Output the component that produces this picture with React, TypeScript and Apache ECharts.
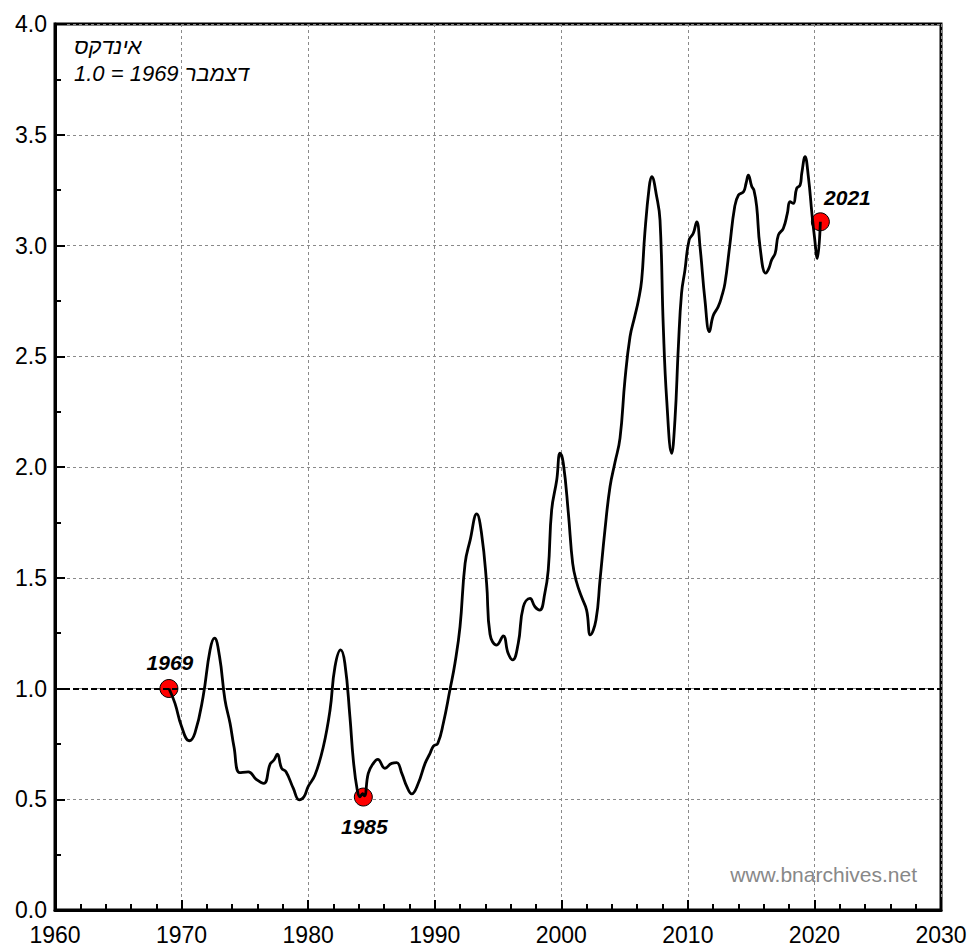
import React, { useEffect, useRef } from "react";
import * as echarts from "echarts";

const years: number[] = [
  1969.0, 1969.48, 1970.0, 1970.6, 1971.06, 1971.7, 1972.25, 1972.6, 1973.0, 1973.43,
  1973.83, 1974.14, 1974.6, 1975.27, 1975.9, 1976.5, 1977.0, 1977.3, 1977.57, 1977.9,
  1978.25, 1978.83, 1979.3, 1979.67, 1980.0, 1980.54, 1981.2, 1981.73, 1982.12, 1982.57,
  1982.9, 1983.3, 1983.57, 1983.88, 1984.1, 1984.3, 1984.45, 1984.75, 1985.15, 1985.5,
  1986.07, 1986.6, 1987.0, 1987.4, 1987.8, 1988.18, 1988.7, 1989.24, 1989.63, 1989.9,
  1990.24, 1990.68, 1991.2, 1991.6, 1992.0, 1992.4, 1992.8, 1993.32, 1993.7, 1994.1,
  1994.37, 1994.9, 1995.42, 1995.8, 1996.16, 1996.6, 1997.0, 1997.53, 1997.92, 1998.3,
  1998.7, 1998.97, 1999.24, 1999.64, 1999.9, 2000.16, 2000.56, 2000.9, 2001.2, 2001.6,
  2002.0, 2002.3, 2002.74, 2003.06, 2003.45, 2003.85, 2004.24, 2004.64, 2005.03, 2005.43,
  2005.8, 2006.1, 2006.35, 2006.6, 2006.95, 2007.14, 2007.54, 2007.8, 2008.06, 2008.33,
  2008.72, 2008.98, 2009.25, 2009.5, 2009.77, 2010.1, 2010.43, 2010.7, 2010.96, 2011.35,
  2011.7, 2012.0, 2012.4, 2012.67, 2012.93, 2013.3, 2013.7, 2014.0, 2014.4, 2014.6,
  2014.78, 2015.05, 2015.22, 2015.44, 2015.7, 2016.15, 2016.4, 2016.62, 2016.9, 2017.15,
  2017.54, 2017.86, 2018.07, 2018.33, 2018.6, 2018.87, 2019.0, 2019.26, 2019.52, 2019.8,
  2020.0, 2020.23, 2020.47,
];

const indexValues: number[] = [
  1.0, 0.933, 0.828, 0.764, 0.8, 0.963, 1.174, 1.227, 1.144, 0.948,
  0.843, 0.737, 0.62, 0.624, 0.59, 0.572, 0.659, 0.677, 0.704, 0.64,
  0.624, 0.549, 0.497, 0.511, 0.557, 0.609, 0.737, 0.903, 1.098, 1.174,
  1.114, 0.873, 0.677, 0.542, 0.511, 0.525, 0.515, 0.617, 0.662, 0.68,
  0.64, 0.662, 0.665, 0.617, 0.557, 0.524, 0.572, 0.662, 0.707, 0.74,
  0.752, 0.843, 0.993, 1.114, 1.279, 1.565, 1.67, 1.788, 1.7, 1.475,
  1.245, 1.196, 1.237, 1.159, 1.129, 1.204, 1.369, 1.407, 1.369, 1.354,
  1.43, 1.535, 1.806, 1.941, 2.062, 2.017, 1.791, 1.565, 1.482, 1.414,
  1.354, 1.242, 1.309, 1.49, 1.716, 1.911, 2.02, 2.13, 2.393, 2.588,
  2.679, 2.754, 2.844, 3.055, 3.266, 3.311, 3.22, 3.115, 2.633, 2.302,
  2.062, 2.212, 2.543, 2.784, 2.889, 3.025, 3.055, 3.107, 2.995, 2.754,
  2.611, 2.683, 2.724, 2.769, 2.829, 2.995, 3.175, 3.228, 3.243, 3.281,
  3.318, 3.266, 3.25, 3.175, 2.995, 2.875, 2.897, 2.935, 2.965, 3.047,
  3.077, 3.145, 3.198, 3.19, 3.258, 3.273, 3.326, 3.401, 3.311, 3.145,
  3.04, 2.942, 3.107,
];

const markerYears: number[] = [1969.0, 1984.36, 2020.47];
const markerValues: number[] = [1.0, 0.51, 3.107];
const markerLabels: string[] = ["1969", "1985", "2021"];

const referenceLevel = 1.0;
const titleLines: string[] = ["אינדקס", "1.0 = 1969 דצמבר"];
const watermark = "www.bnarchives.net";

const FONT = "Arial, 'Liberation Sans', sans-serif";

export default function App() {
  const ref = useRef<HTMLDivElement>(null);

  useEffect(() => {
    document.body.style.margin = "0";
    if (!ref.current) return;
    const chart = echarts.init(ref.current, undefined, { renderer: "svg" });

    const lineData = years.map((y, i) => [y, indexValues[i]]);
    const labelPos: any[] = [
      { position: "top", distance: 6, offset: [1, 0] },
      { position: "bottom", distance: 9, offset: [1, 0] },
      { position: "top", distance: 4, offset: [27, 0] },
    ];
    const markerData = markerYears.map((y, i) => ({
      value: [y, markerValues[i]],
      label: {
        show: true,
        formatter: markerLabels[i],
        color: "#000",
        ...labelPos[i],
      },
    }));

    chart.setOption({
      animation: false,
      backgroundColor: "#fff",
      grid: {
        left: 55,
        right: 29,
        top: 24,
        bottom: 37,
        show: true,
        borderColor: "#000",
        borderWidth: 3,
        backgroundColor: "transparent",
      },
      xAxis: {
        type: "value",
        min: 1960,
        max: 2030,
        interval: 10,
        axisLine: { show: true, lineStyle: { color: "#000", width: 3 } },
        axisTick: { show: true, inside: true, length: 10, lineStyle: { color: "#000", width: 2 } },
        minorTick: { show: true, splitNumber: 5, length: 6, lineStyle: { color: "#000", width: 2 } },
        axisLabel: {
          color: "#000",
          fontSize: 23,
          fontFamily: FONT,
          margin: 13,
          formatter: (v: number) => String(Math.round(v)),
        },
        splitLine: { show: true, lineStyle: { color: "#8a8a8a", type: [3, 3], width: 1 } },
      },
      yAxis: {
        type: "value",
        min: 0,
        max: 4,
        interval: 0.5,
        axisLine: { show: true, lineStyle: { color: "#000", width: 3 } },
        axisTick: { show: true, inside: true, length: 10, lineStyle: { color: "#000", width: 2 } },
        minorTick: { show: true, splitNumber: 2, length: 6, lineStyle: { color: "#000", width: 2 } },
        axisLabel: {
          color: "#000",
          fontSize: 23,
          fontFamily: FONT,
          margin: 8,
          formatter: (v: number) => v.toFixed(1),
        },
        splitLine: { show: true, lineStyle: { color: "#8a8a8a", type: [3, 3], width: 1 } },
      },
      series: [
        {
          type: "scatter",
          data: markerData,
          symbol: "circle",
          symbolSize: 18,
          z: 2,
          itemStyle: { color: "#ff0000", borderColor: "#000", borderWidth: 1, opacity: 1 },
          label: {
            color: "#000",
            fontSize: 21,
            fontWeight: "bold",
            fontStyle: "italic",
            fontFamily: FONT,
          },
        },
        {
          type: "line",
          data: lineData,
          showSymbol: false,
          symbol: "none",
          smooth: 0.45,
          z: 3,
          lineStyle: { color: "#000", width: 2.8 },
          markLine: {
            silent: true,
            symbol: "none",
            label: { show: false },
            lineStyle: { color: "#000", type: [6, 3], width: 2 },
            data: [{ yAxis: referenceLevel }],
          },
        },
      ],
      graphic: [
        {
          type: "text",
          left: 74,
          top: 35,
          style: {
            text: titleLines[0],
            fontSize: 22,
            fontStyle: "italic",
            fontFamily: FONT,
            fill: "#000",
          },
        },
        {
          type: "text",
          left: 74,
          top: 62,
          style: {
            text: titleLines[1],
            fontSize: 22,
            fontStyle: "italic",
            fontFamily: FONT,
            fill: "#000",
          },
        },
        {
          type: "text",
          right: 53,
          top: 864,
          style: {
            text: watermark,
            fontSize: 21,
            fontFamily: FONT,
            fill: "#888",
          },
        },
      ],
    });

    return () => chart.dispose();
  }, []);

  return <div ref={ref} style={{ width: 970, height: 947 }} />;
}
